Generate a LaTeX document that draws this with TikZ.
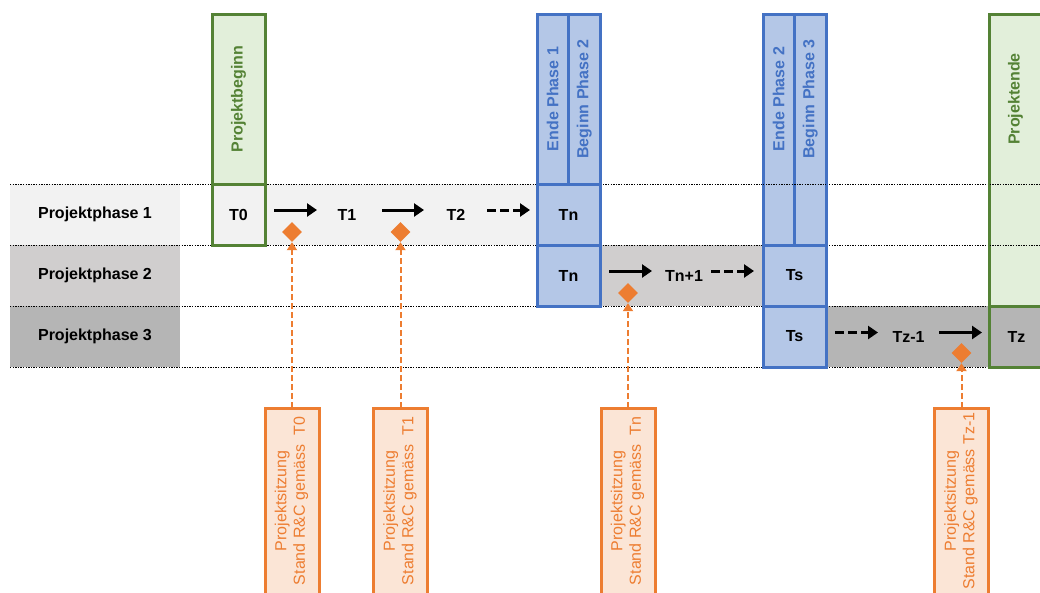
\documentclass[tikz,border=0pt]{standalone}
\usepackage{fontspec}
\setmainfont{Liberation Sans}
\usetikzlibrary{arrows.meta,shapes.geometric}
\definecolor{gborder}{HTML}{548235}
\definecolor{gfill}{HTML}{E2EFDA}
\definecolor{bborder}{HTML}{4472C4}
\definecolor{bfill}{HTML}{B4C7E7}
\definecolor{oborder}{HTML}{ED7D31}
\definecolor{ofill}{HTML}{FBE5D6}
\definecolor{rowA}{HTML}{F2F2F2}
\definecolor{rowB}{HTML}{D0CECE}
\definecolor{rowC}{HTML}{B5B5B5}
\begin{document}
\begin{tikzpicture}[x=1pt,y=-1pt,
  cell/.style={rectangle, inner sep=0pt, outer sep=0pt},
  band/.style={cell, minimum height=61},
  gbox/.style={cell, draw=gborder, line width=3pt},
  bbox/.style={cell, draw=bborder, fill=bfill, line width=3pt},
  obox/.style={cell, draw=oborder, fill=ofill, line width=3pt, minimum width=54, minimum height=186,
    text=oborder, align=center, font=\fontsize{16}{18.5}\selectfont},
  lab/.style={font=\fontsize{16}{19}\selectfont\bfseries},
  glab/.style={lab, text=gborder, rotate=90},
  blab/.style={lab, text=bborder, rotate=90},
  sep/.style={black, line width=0.9pt, dash pattern=on 1.4pt off 1.2pt},
  sarrow/.style={black, line width=3pt, -{Triangle[length=10pt,width=13pt]}},
  darrow/.style={sarrow, dash pattern=on 9pt off 4pt},
  mile/.style={diamond, fill=oborder, minimum width=20, minimum height=20, inner sep=0pt},
  oconn/.style={draw=oborder, line width=2pt, dash pattern=on 6pt off 3pt, -{Triangle[length=8pt,width=10pt]}}
]
\useasboundingbox (0,0) rectangle (1040,592);

% row label cells
\node[band, fill=rowA, minimum width=170, lab] (r1) at (95,214.5) {Projektphase 1};
\node[band, fill=rowB, minimum width=170, lab] (r2) at (95,275.5) {Projektphase 2};
\node[band, fill=rowC, minimum width=170, lab] (r3) at (95,336.5) {Projektphase 3};

% gray bands of the phases
\node[band, fill=rowA, minimum width=272] (g1) at (401,214.5) {};
\node[band, fill=rowB, minimum width=163] (g2) at (681.5,275.5) {};
\node[band, fill=rowC, minimum width=164] (g3) at (908,336.5) {};

% separators
\foreach \yy in {184,245,306,367} \draw[sep] (10,\yy) -- (1040,\yy);

% Projektbeginn
\node[gbox, fill=gfill, minimum width=53, minimum height=170] (pb) at (238.5,99) {};
\node[glab] (pbt) at (pb.center) {Projektbeginn};
\node[gbox, fill=rowA, minimum width=53, minimum height=61, lab] (t0) at (238.5,214.5) {T0};

% Ende Phase 1 / Beginn Phase 2
\node[bbox, minimum width=31.5, minimum height=170] (e1) at (552.75,99) {};
\node[bbox, minimum width=31.5, minimum height=170] (b2) at (584.25,99) {};
\node[blab] (e1t) at (e1.center) {Ende Phase 1};
\node[blab] (b2t) at (b2.center) {Beginn Phase 2};
\node[bbox, minimum width=63, minimum height=61, lab] (tn1) at (568.5,214.5) {Tn};
\node[bbox, minimum width=63, minimum height=61, lab] (tn2) at (568.5,275.5) {Tn};

% Ende Phase 2 / Beginn Phase 3
\node[bbox, minimum width=31.5, minimum height=231] (e2) at (778.75,129.5) {};
\node[bbox, minimum width=31.5, minimum height=231] (b3) at (810.25,129.5) {};
\node[blab] (e2t) at (778.75,99) {Ende Phase 2};
\node[blab] (b3t) at (810.25,99) {Beginn Phase 3};
\node[bbox, minimum width=63, minimum height=61, lab] (ts2) at (794.5,275.5) {Ts};
\node[bbox, minimum width=63, minimum height=61, lab] (ts3) at (794.5,336.5) {Ts};

% Projektende
\node[gbox, fill=gfill, minimum width=54.5, minimum height=292] (pe) at (1016.75,160) {};
\node[glab] (pet) at (1015.5,99) {Projektende};
\node[gbox, fill=rowC, minimum width=54.5, minimum height=61] (tzb) at (1016.75,336.5) {};
\node[lab] (tz) at (1016.5,336.5) {Tz};

% separators visible through the tall headers
\draw[sep] (e2.west |- 0,184) -- (b3.east |- 0,184);
\draw[sep] (pe.west |- 0,184) -- (1040,184);
\draw[sep] (pe.west |- 0,245) -- (1040,245);

% time points
\node[lab] (t1) at (347,214.5) {T1};
\node[lab] (t2) at (456,214.5) {T2};
\node[lab] (tnp) at (684,275.5) {Tn+1};
\node[lab] (tzm) at (908.5,336.5) {Tz-1};

% arrow end points
\coordinate (a1s) at (274,210);   \coordinate (a1e) at (317,210);
\coordinate (a2s) at (382,210);   \coordinate (a2e) at (424,210);
\coordinate (a3s) at (487,210);   \coordinate (a3e) at (530,210);
\coordinate (a4s) at (609,271);   \coordinate (a4e) at (652,271);
\coordinate (a5s) at (711,271);   \coordinate (a5e) at (754,271);
\coordinate (a6s) at (835,332.5); \coordinate (a6e) at (878,332.5);
\coordinate (a7s) at (939,332.5); \coordinate (a7e) at (982,332.5);
\draw[sarrow] (a1s) -- (a1e);
\draw[sarrow] (a2s) -- (a2e);
\draw[darrow] (a3s) -- (a3e);
\draw[sarrow] (a4s) -- (a4e);
\draw[darrow] (a5s) -- (a5e);
\draw[darrow] (a6s) -- (a6e);
\draw[sarrow] (a7s) -- (a7e);

% milestones
\node[mile] (d1) at (292,232) {};
\node[mile] (d2) at (400.5,232) {};
\node[mile] (d3) at (628,293) {};
\node[mile] (d4) at (961.5,353) {};

% meeting boxes
\node[obox] (ob1) at (292,501) {\rotatebox{90}{\begin{tabular}{@{}c@{}}Projektsitzung\\Stand R\&C gemäss~~T0\end{tabular}}};
\node[obox] (ob2) at (400.5,501) {\rotatebox{90}{\begin{tabular}{@{}c@{}}Projektsitzung\\Stand R\&C gemäss~~T1\end{tabular}}};
\node[obox] (ob3) at (628,501) {\rotatebox{90}{\begin{tabular}{@{}c@{}}Projektsitzung\\Stand R\&C gemäss~~Tn\end{tabular}}};
\node[obox] (ob4) at (961.5,501) {\rotatebox{90}{\begin{tabular}{@{}c@{}}Projektsitzung\\Stand R\&C gemäss Tz-1\end{tabular}}};

\draw[oconn] (ob1.north) -- (d1.south);
\draw[oconn] (ob2.north) -- (d2.south);
\draw[oconn] (ob3.north) -- (d3.south);
\draw[oconn] (ob4.north) -- (d4.south);
\end{tikzpicture}
\end{document}
